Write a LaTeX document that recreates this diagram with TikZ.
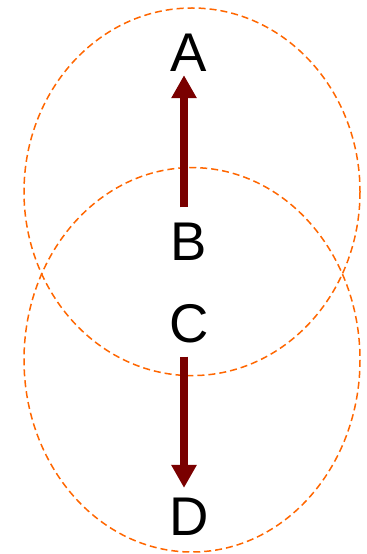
\documentclass[tikz,border=0pt]{standalone}
\usepackage{fontspec}
\setmainfont{Liberation Sans}
\usetikzlibrary{arrows.meta}
\definecolor{ringorange}{RGB}{255,102,0}
\definecolor{arrowred}{RGB}{122,0,0}
\begin{document}
\begin{tikzpicture}[x=1bp,y=-1bp,
  ring/.style={draw=ringorange,line width=1.5bp,dash pattern=on 7bp off 4bp},
  letter/.style={inner sep=0pt,anchor=base,font=\fontsize{54.5bp}{60bp}\selectfont,text=black},
  bigarrow/.style={draw=arrowred,line width=8bp,-{Triangle[width=24bp,length=23bp]}}]
\useasboundingbox (0,0) rectangle (366,554);
\draw[ring] (192,191.8) ellipse [x radius=168,y radius=183.8];
\draw[ring] (192,359.8) ellipse [x radius=168,y radius=192.2];
\node[letter] (A) at (189,72) {A};
\node[letter] (B) at (188.5,260) {B};
\node[letter] (C) at (189,342) {C};
\node[letter] (D) at (189,535) {D};
\draw[bigarrow,shorten <=15bp,shorten >=3bp] (B.north -| 184,0) -- (A.south -| 184,0);
\draw[bigarrow,shorten <=14bp,shorten >=9.4bp] (C.south -| 184,0) -- (D.north -| 184,0);
\end{tikzpicture}
\end{document}
